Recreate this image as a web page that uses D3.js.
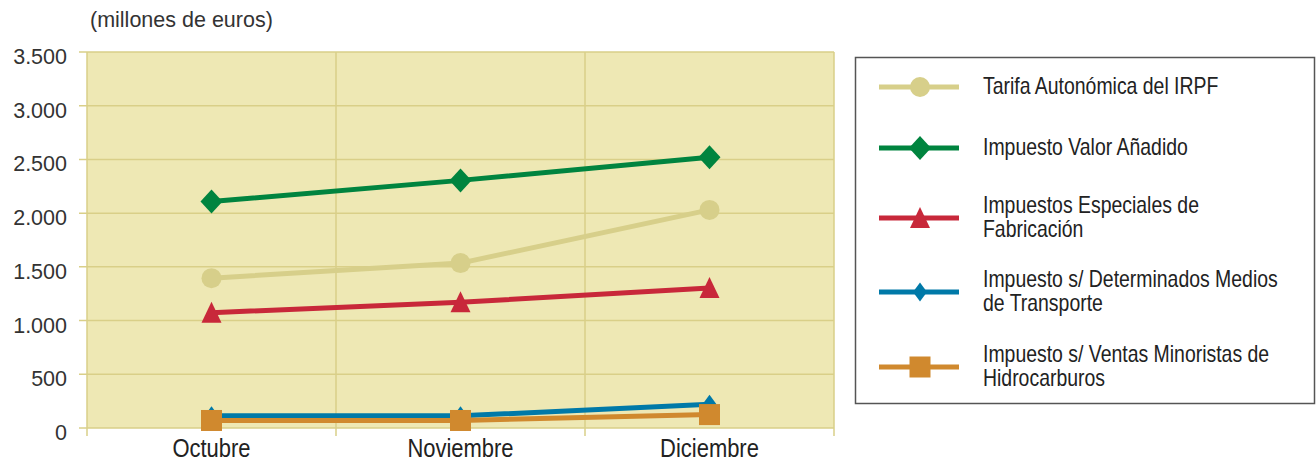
<!DOCTYPE html>
<html>
<head>
<meta charset="utf-8">
<script src="https://cdn.jsdelivr.net/npm/d3@7"></script>
<style>
  body { margin: 0; background: #fff; }
  svg { display: block; }
</style>
</head>
<body>
<script>
const months = ["Octubre", "Noviembre", "Diciembre"];
const tarifaIRPF = [1395, 1535, 2030];
const iva = [2108, 2305, 2520];
const especiales = [1073, 1170, 1303];
const mediosTransporte = [113, 113, 220];
const ventasMinoristas = [70, 70, 125];
const yTicks = [0, 500, 1000, 1500, 2000, 2500, 3000, 3500];

const seriesNames = [
    "Tarifa Autonómica del IRPF",
    "Impuesto Valor Añadido",
    "Impuestos Especiales de|Fabricación",
    "Impuesto s/ Determinados Medios|de Transporte",
    "Impuesto s/ Ventas Minoristas de|Hidrocarburos"
];

const series = [
    { name: seriesNames[0], values: tarifaIRPF, color: "#d7cf8a", marker: "circle" },
    { name: seriesNames[1], values: iva, color: "#00843f", marker: "diamond" },
    { name: seriesNames[2], values: especiales, color: "#c8283a", marker: "triangle" },
    { name: seriesNames[3], values: mediosTransporte, color: "#0079a8", marker: "smalldiamond" },
    { name: seriesNames[4], values: ventasMinoristas, color: "#d0892e", marker: "square" }
];

const width = 1316, height = 463;
const plot = { left: 87, right: 834, top: 52, bottom: 428 };
const gridColor = "#d9cf88";
const sans = "'Liberation Sans', Arial, sans-serif";
const squeeze = 0.845; // narrow look

const svg = d3.select("body").append("svg")
    .attr("width", width)
    .attr("height", height);

const x = d3.scaleBand().domain(months).range([plot.left, plot.right]).padding(0);
const y = d3.scaleLinear().domain([0, 3500]).range([plot.bottom, plot.top]);

svg.append("rect")
    .attr("x", plot.left).attr("y", plot.top)
    .attr("width", plot.right - plot.left)
    .attr("height", plot.bottom - plot.top)
    .attr("fill", "#eee8b4");

// horizontal grid + ticks
svg.append("g").selectAll("line")
    .data(yTicks)
    .join("line")
    .attr("x1", plot.left - 8).attr("x2", plot.right)
    .attr("y1", d => y(d)).attr("y2", d => y(d))
    .attr("stroke", gridColor).attr("stroke-width", 1.5);

// vertical grid at band edges
const edges = months.map(m => x(m)).concat([plot.right]);
svg.append("g").selectAll("line")
    .data(edges)
    .join("line")
    .attr("x1", d => d).attr("x2", d => d)
    .attr("y1", plot.top).attr("y2", plot.bottom + 8)
    .attr("stroke", gridColor).attr("stroke-width", 1.5);

svg.append("g").selectAll("text")
    .data(yTicks)
    .join("text")
    .attr("x", 67)
    .attr("y", d => y(d) + 12)
    .attr("text-anchor", "end")
    .style("font-family", sans)
    .style("font-size", "21.5px")
    .attr("fill", "#333")
    .text(d => d3.format(",")(d).replace(/,/g, "."));

svg.append("g").selectAll("text")
    .data(months)
    .join("text")
    .attr("transform", d => `translate(${x(d) + x.bandwidth() / 2},457) scale(${squeeze},1)`)
    .attr("text-anchor", "middle")
    .style("font-family", sans)
    .style("font-size", "26px")
    .attr("fill", "#222")
    .text(d => d);

svg.append("text")
    .attr("x", 90).attr("y", 27)
    .style("font-family", sans)
    .style("font-size", "21.5px")
    .attr("fill", "#333")
    .text("(millones de euros)");

const drawMarker = (g, type, color) => {
    if (type === "circle") {
        g.append("circle").attr("r", 10).attr("fill", color);
    } else if (type === "diamond") {
        g.append("path").attr("d", "M0,-12L11,0L0,12L-11,0Z").attr("fill", color);
    } else if (type === "smalldiamond") {
        g.append("path").attr("d", "M0,-9.5L7,0L0,9.5L-7,0Z").attr("fill", color);
    } else if (type === "triangle") {
        g.append("path").attr("d", "M0,-11L10,10L-10,10Z").attr("fill", color);
    } else if (type === "square") {
        g.append("rect").attr("x", -10.5).attr("y", -10.5)
            .attr("width", 21).attr("height", 21).attr("fill", color);
    }
};

const line = d3.line()
    .x((d, i) => x(months[i]) + x.bandwidth() / 2)
    .y(d => y(d));

series.forEach(s => {
    const g = svg.append("g");
    g.append("path")
        .attr("d", line(s.values))
        .attr("fill", "none")
        .attr("stroke", s.color)
        .attr("stroke-width", 5);
    s.values.forEach((v, i) => {
        const m = g.append("g")
            .attr("transform", `translate(${x(months[i]) + x.bandwidth() / 2},${y(v)})`);
        drawMarker(m, s.marker, s.color);
    });
});

// legend
const legend = svg.append("g");
legend.append("rect")
    .attr("x", 855.5).attr("y", 57.5)
    .attr("width", 459).attr("height", 346)
    .attr("fill", "#fff")
    .attr("stroke", "#555")
    .attr("stroke-width", 1.5);

const rowY = [87, 148, 218, 292, 367];
series.forEach((s, i) => {
    const g = legend.append("g").attr("transform", `translate(0,${rowY[i]})`);
    g.append("line")
        .attr("x1", 879).attr("x2", 959)
        .attr("y1", 0).attr("y2", 0)
        .attr("stroke", s.color).attr("stroke-width", 5);
    const m = g.append("g").attr("transform", "translate(920,0)");
    drawMarker(m, s.marker, s.color);
    const lines = s.name.split("|");
    const t = g.append("text")
        .attr("transform", `translate(983,0) scale(${squeeze},1)`)
        .style("font-family", sans)
        .style("font-size", "23px")
        .attr("fill", "#222");
    lines.forEach((ln, j) => {
        t.append("tspan")
            .attr("x", 0)
            .attr("y", lines.length === 1 ? 6.5 : -4.7 + j * 23.4)
            .text(ln);
    });
});
</script>
</body>
</html>
